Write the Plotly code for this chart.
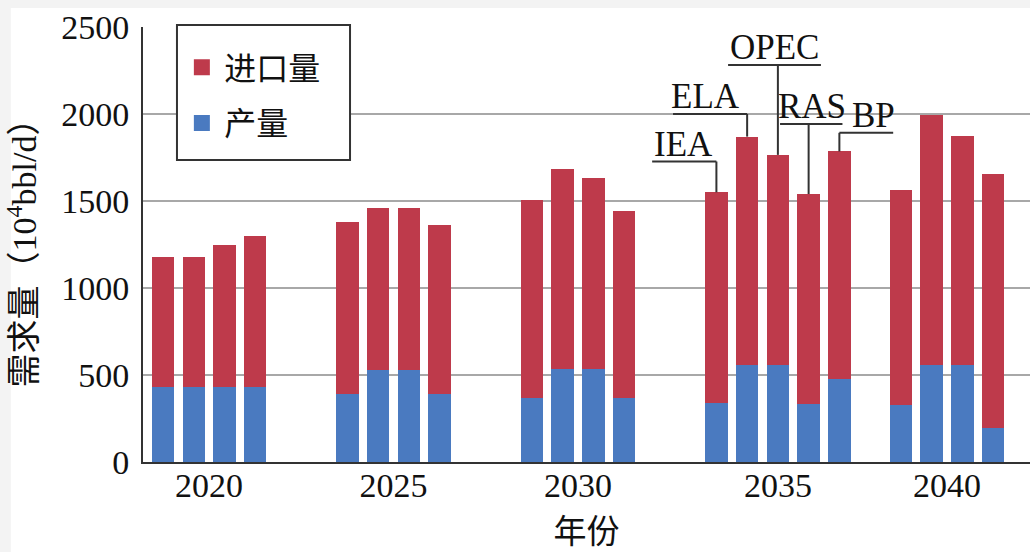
import plotly.graph_objects as go

# ---- data ----
years = ["2020", "2025", "2030", "2035", "2040"]
production = [
    [430, 430, 430, 430],
    [390, 530, 530, 390],
    [365, 535, 535, 365],
    [340, 555, 555, 335, 475],
    [330, 560, 560, 195],
]
imports = [
    [750, 750, 820, 870],
    [990, 930, 930, 970],
    [1140, 1150, 1095, 1080],
    [1210, 1315, 1210, 1205, 1310],
    [1235, 1435, 1315, 1460],
]
agencies = ["IEA", "ELA", "OPEC", "RAS", "BP"]   # bars of the 2035 group
label_group = 3

# leader layout (style): underline level, underline extent relative to bar, text offset
leader_y = [1727, 2000, 2281, 1942, 1892]
leader_x0 = [-2.09, -2.41, -1.62, -0.93, 0.0]
leader_x1 = [0.0, 0.0, 1.40, 1.10, 1.75]
text_dx = [-1.08, -1.34, -0.12, 0.10, 1.10]

RED = "#BE3A4B"
BLUE = "#4A7AC0"
FONT = "Liberation Serif, Noto Sans CJK SC, serif"
GROUP_SLOTS = 6

xs, prod_flat, imp_flat = [], [], []
tickvals = []
for g, (p, m) in enumerate(zip(production, imports)):
    slots = [g * GROUP_SLOTS + i for i in range(len(p))]
    xs += slots
    prod_flat += p
    imp_flat += m
    tickvals.append(sum(slots) / len(slots))

fig = go.Figure()
fig.add_trace(go.Bar(x=xs, y=prod_flat, marker=dict(color=BLUE, line_width=0),
                     width=0.73, name="产量", showlegend=False))
fig.add_trace(go.Bar(x=xs, y=imp_flat, marker=dict(color=RED, line_width=0),
                     width=0.73, name="进口量", showlegend=False))
# legend proxies
fig.add_trace(go.Scatter(x=[None], y=[None], mode="markers", name="进口量",
                         marker=dict(symbol="square", size=16, color=RED),
                         legendgroup="a"))
fig.add_trace(go.Scatter(x=[None], y=[None], mode="markers", name="产量",
                         marker=dict(symbol="square", size=16, color=BLUE),
                         legendgroup="b"))

shapes = [
    # white panel on grey page
    dict(type="rect", xref="paper", yref="paper", x0=-0.149, x1=1.05,
         y0=-0.25, y1=1.0437, fillcolor="white", line_width=0, layer="below"),
    # legend frame
    dict(type="rect", xref="paper", yref="paper", x0=0.0383, x1=0.2334,
         y0=0.694, y1=1.0046, fillcolor="white",
         line=dict(color="#333333", width=2), layer="above"),
]
annotations = []
for k, name in enumerate(agencies):
    slot = label_group * GROUP_SLOTS + k
    total = production[label_group][k] + imports[label_group][k]
    ly = leader_y[k]
    shapes.append(dict(type="line", x0=slot + leader_x0[k], x1=slot + leader_x1[k],
                       y0=ly, y1=ly, line=dict(color="#333333", width=2)))
    shapes.append(dict(type="line", x0=slot, x1=slot, y0=ly, y1=total,
                       line=dict(color="#333333", width=2)))
    annotations.append(dict(x=slot + text_dx[k], y=ly, text=name, showarrow=False,
                            xanchor="center", yanchor="bottom", yshift=-4,
                            font=dict(family=FONT, size=35, color="#111111")))

fig.update_layout(
    width=1030, height=552,
    margin=dict(l=143, r=0, t=27, b=90, pad=0),
    paper_bgcolor="#f3f3f3", plot_bgcolor="white",
    barmode="stack",
    font=dict(family=FONT, size=34, color="#111111"),
    shapes=shapes, annotations=annotations,
    legend=dict(x=0.041, y=0.970, xanchor="left", yanchor="top",
                bgcolor="rgba(0,0,0,0)", borderwidth=0,
                font=dict(family=FONT, size=32, color="#111111"),
                tracegroupgap=11, itemsizing="trace", itemwidth=35),
    xaxis=dict(range=[-0.65, 28.2], tickvals=tickvals, ticktext=years,
               showgrid=False, zeroline=False, showline=True,
               linecolor="#333333", linewidth=2, ticks="",
               ticklabelstandoff=-8,
               tickfont=dict(family=FONT, size=34),
               title=dict(text="年份", standoff=17,
                          font=dict(family=FONT, size=33))),
    yaxis=dict(range=[0, 2500], dtick=500, showgrid=True, gridcolor="#a8a8a8",
               gridwidth=1.5, zeroline=False, showline=True,
               linecolor="#333333", linewidth=2, ticks="",
               ticklabelstandoff=5,
               tickfont=dict(family=FONT, size=34),
               title=dict(text="需求量（10<sup>4</sup>bbl/d）", standoff=14,
                          font=dict(family=FONT, size=34))),
)

fig.write_html("out.html", config={"displayModeBar": False},
               post_script="document.body.style.margin='0px';")
